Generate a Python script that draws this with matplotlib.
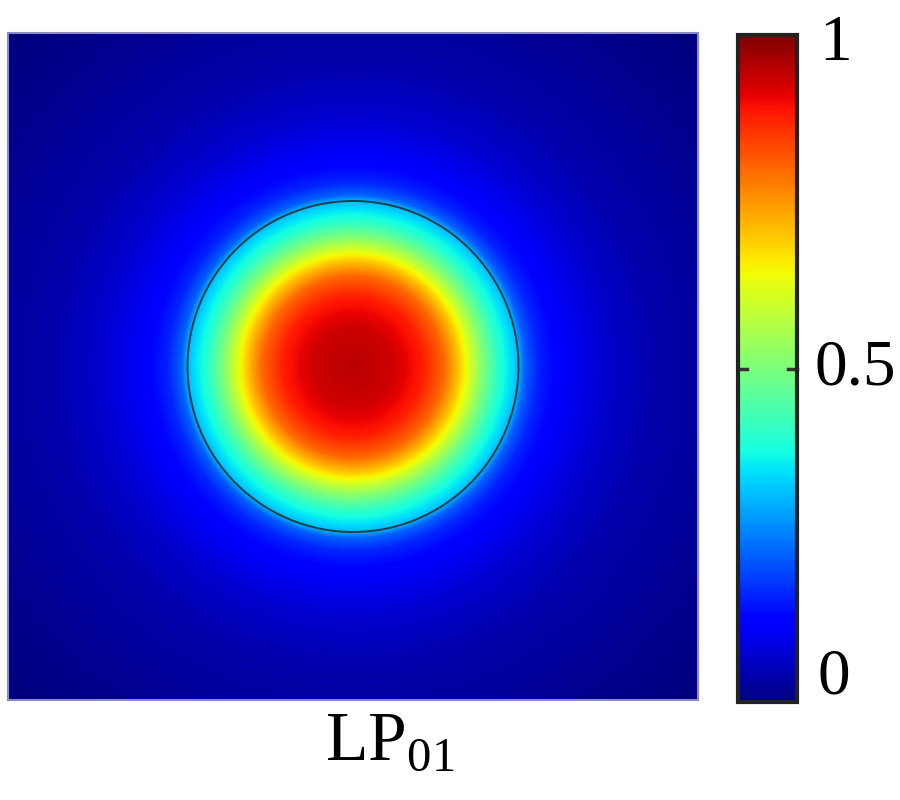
import numpy as np
import matplotlib
matplotlib.use('Agg')
import matplotlib.pyplot as plt
from matplotlib.patches import Circle

plt.rcParams['font.family'] = ['Liberation Serif', 'DejaVu Serif']
plt.rcParams['mathtext.fontset'] = 'custom'
plt.rcParams['mathtext.rm'] = 'Liberation Serif'

# radial intensity profile of the LP01 mode
# radius in units of the core radius, normalised intensity
radius = [0.0, 0.24, 0.42, 0.55, 0.64, 0.70, 0.79, 0.88, 0.95, 1.0,
          1.04, 1.12, 1.27, 1.52, 1.82, 2.3, 2.9]
intensity = [0.95, 0.93, 0.88, 0.80, 0.70, 0.62, 0.50, 0.40, 0.35, 0.31,
             0.22, 0.16, 0.11, 0.07, 0.04, 0.02, 0.0]

core_radius = 1.0
half_width = 345 / 165.5
half_height = 333.5 / 165.5
cbar_labels = ['0', '0.5', '1']
mode_name = r'LP$_{01}$'

n = 400
x = np.linspace(-half_width, half_width, n)
y = np.linspace(-half_height, half_height, n)
X, Y = np.meshgrid(x, y)
R = np.sqrt(X**2 + Y**2)
field = np.interp(R, radius, intensity)

fig = plt.figure(figsize=(9, 8), dpi=100)
ax = fig.add_axes([8/900, 1 - 700/800, 690/900, 667/800])
im = ax.imshow(field, cmap='jet', vmin=0, vmax=1, origin='lower',
               extent=[-half_width, half_width, -half_height, half_height],
               aspect='auto', interpolation='bilinear')
ax.add_patch(Circle((0, 0), core_radius, fill=False, edgecolor='#1c3f48',
                    linewidth=1.4))
ax.set_xticks([])
ax.set_yticks([])
for sp in ax.spines.values():
    sp.set_color('#8a8ac8')
    sp.set_linewidth(1.5)

cax = fig.add_axes([738/900, 1 - 702/800, 59/900, 667/800])
cb = fig.colorbar(im, cax=cax)
cb.outline.set_linewidth(3)
cb.outline.set_edgecolor('#222222')
cb.set_ticks([])
# tick labels sit a little inside the bar ends
label_pos = [0.036, 0.5, 0.986]
label_x = [1.34, 1.30, 1.38]
for v, lx, lab in zip(label_pos, label_x, cbar_labels):
    cax.text(lx, v, lab, transform=cax.transAxes, fontsize=47,
             va='center', ha='left')
# short tick marks at 0.5 on both sides
cax.plot([0, 0.15], [0.5, 0.5], transform=cax.transAxes, color='#333333', lw=2.5, clip_on=False)
cax.plot([0.85, 1], [0.5, 0.5], transform=cax.transAxes, color='#333333', lw=2.5, clip_on=False)

fig.text(390/900, 1 - 760/800, mode_name, fontsize=50, ha='center', va='baseline')

fig.savefig('out.png', dpi=100)
